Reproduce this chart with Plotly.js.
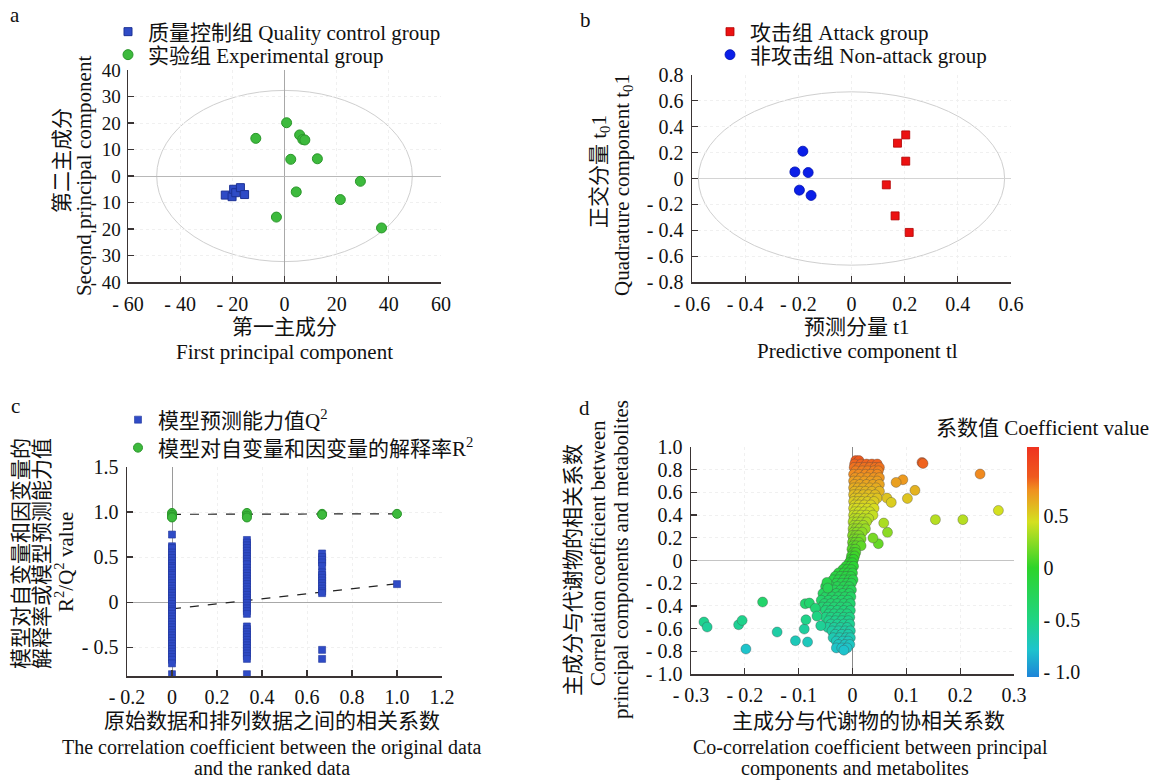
<!DOCTYPE html>
<html>
<head>
<meta charset="utf-8">
<script src="https://cdn.plot.ly/plotly-3.0.1.min.js"></script>
<style>html,body{margin:0;padding:0;background:#fff;}#chart{width:1153px;height:780px;}</style>
</head>
<body>
<div id="chart"></div>
<script>
// ---------- Panel a: PCA scores ----------
const qcX = [-22.7, -20.1, -19.5, -18.7, -16.9, -15.3];
const qcY = [-7.2, -7.8, -5.0, -6.3, -4.4, -7.0];
const expX = [-11.0, 0.8, 5.8, 7.0, 7.8, 2.4, 12.6, 29.1, 4.5, 21.4, -3.1, 37.2];
const expY = [14.2, 20.1, 15.5, 13.8, 13.6, 6.3, 6.5, -2.0, -6.0, -8.9, -15.5, -19.6];
const aXTicks = [-60, -40, -20, 0, 20, 40, 60];
const aXText = ["- 60", "- 40", "- 20", "0", "20", "40", "60"];
const aYTicks = [-40, -30, -20, -10, 0, 10, 20, 30, 40];
const aYText = ["- 40", "- 30", "- 20", "- 10", "0", "10", "20", "30", "40"];
const aEllipse = {rx: 49, ry: 32.3};

// ---------- Panel b: OPLS-DA scores ----------
const attackX = [0.204, 0.173, 0.204, 0.131, 0.164, 0.217];
const attackY = [0.337, 0.273, 0.134, -0.049, -0.289, -0.417];
const nonAttackX = [-0.183, -0.213, -0.163, -0.196, -0.152];
const nonAttackY = [0.211, 0.051, 0.046, -0.090, -0.131];
const bXTicks = [-0.6, -0.4, -0.2, 0, 0.2, 0.4, 0.6];
const bXText = ["- 0.6", "- 0.4", "- 0.2", "0", "0.2", "0.4", "0.6"];
const bYTicks = [-0.8, -0.6, -0.4, -0.2, 0, 0.2, 0.4, 0.6, 0.8];
const bYText = ["- 0.8", "- 0.6", "- 0.4", "- 0.2", "0", "0.2", "0.4", "0.6", "0.8"];
const bEllipse = {rx: 0.576, ry: 0.67};

// ---------- Panel c: permutation test ----------
const q2AtX0 = [0.75, 0.62, 0.60, 0.55, 0.52, 0.49, 0.46, 0.43, 0.40, 0.38, 0.35, 0.32, 0.30, 0.27, 0.24, 0.21, 0.18, 0.15, 0.12, 0.10, 0.07, 0.04, 0.01, -0.02, -0.05, -0.08, -0.10, -0.13, -0.16, -0.19, -0.22, -0.25, -0.28, -0.31, -0.34, -0.37, -0.40, -0.43, -0.46, -0.49, -0.52, -0.55, -0.58, -0.61, -0.64, -0.68, -0.80];
const q2AtX1 = [0.69, 0.66, 0.63, 0.60, 0.57, 0.54, 0.51, 0.48, 0.45, 0.42, 0.38, 0.35, 0.32, 0.29, 0.26, 0.23, 0.20, 0.17, 0.14, 0.11, 0.08, 0.05, 0.02, -0.01, -0.04, -0.07, -0.10, -0.13, -0.27, -0.30, -0.33, -0.36, -0.39, -0.42, -0.45, -0.48, -0.51, -0.54, -0.57, -0.60, -0.63, -0.80];
const q2AtX2 = [0.54, 0.50, 0.47, 0.44, 0.40, 0.33, 0.30, 0.27, 0.24, 0.21, 0.18, 0.15, 0.12, 0.10, -0.53, -0.63];
const q2AtX3 = [0.20];
const r2AtX0 = [0.99, 0.97, 0.95, 0.94];
const r2AtX1 = [0.99, 0.96, 0.94];
const r2AtX2 = [0.98, 0.97];
const r2AtX3 = [0.98];
const permX = [0, 0.333, 0.667, 1.0];
const fitX = [0, 1];
const q2Fit = [-0.075, 0.205];
const r2Fit = [0.975, 0.98];
const cXTicks = [-0.2, 0, 0.2, 0.4, 0.6, 0.8, 1.0, 1.2];
const cXText = ["- 0.2", "0", "0.2", "0.4", "0.6", "0.8", "1.0", "1.2"];
const cYTicks = [-0.5, 0, 0.5, 1.0, 1.5];
const cYText = ["- 0.5", "0", "0.5", "1.0", "1.5"];

// ---------- Panel d: S-plot ----------
const dBandY = [0.88, 0.85, 0.82, 0.79, 0.76, 0.73, 0.70, 0.67, 0.64, 0.61, 0.58, 0.55, 0.52, 0.49, 0.46, 0.43, 0.40, 0.37, 0.34, 0.31, 0.28, 0.25, 0.22, 0.19, 0.16, 0.13, 0.10, 0.07, 0.04, 0.01,
  -0.02, -0.05, -0.08, -0.11, -0.14, -0.17, -0.20, -0.23, -0.26, -0.29, -0.32, -0.35, -0.38, -0.41, -0.44, -0.47, -0.50, -0.53, -0.56, -0.59, -0.62, -0.65, -0.68, -0.71, -0.74, -0.77, -0.79];
const dBandX = [
  [0.006, 0.012], [0.004, 0.016, 0.026, 0.036, 0.046], [0.003, 0.012, 0.022, 0.032, 0.042, 0.05],
  [0.006, 0.018, 0.028, 0.04, 0.048], [0.002, 0.012, 0.024, 0.034, 0.046], [0.005, 0.016, 0.028, 0.04, 0.05],
  [0.002, 0.01, 0.022, 0.034, 0.046], [0.004, 0.014, 0.026, 0.038, 0.05], [0.002, 0.01, 0.02, 0.032, 0.044],
  [0.004, 0.014, 0.024, 0.036, 0.05], [0.002, 0.01, 0.02, 0.03, 0.042], [0.004, 0.012, 0.024, 0.036, 0.046],
  [0.002, 0.01, 0.018, 0.028, 0.04], [0.004, 0.012, 0.022, 0.034], [0.002, 0.008, 0.018, 0.028, 0.04],
  [0.004, 0.012, 0.022, 0.032], [0.002, 0.008, 0.016, 0.026, 0.038], [0.003, 0.01, 0.02, 0.03],
  [0.001, 0.008, 0.016, 0.026], [0.003, 0.01, 0.02], [0.001, 0.007, 0.014, 0.024], [0.002, 0.008, 0.018],
  [0.0, 0.006, 0.012], [0.002, 0.008, 0.016], [0.0, 0.005, 0.012], [0.001, 0.007, 0.016], [-0.001, 0.005],
  [0.001, 0.006], [-0.002, 0.004], [-0.003, 0.002],
  [-0.006, 0.0], [-0.012, -0.004, 0.002], [-0.018, -0.01, -0.002], [-0.026, -0.016, -0.008, 0.0],
  [-0.032, -0.022, -0.012, -0.003], [-0.036, -0.026, -0.016, -0.006, 0.001], [-0.03, -0.02, -0.01, -0.002],
  [-0.05, -0.04, -0.028, -0.016, -0.006], [-0.046, -0.034, -0.022, -0.01, -0.002], [-0.055, -0.042, -0.03, -0.018, -0.006],
  [-0.05, -0.038, -0.026, -0.014, -0.003], [-0.058, -0.044, -0.032, -0.02, -0.008], [-0.052, -0.04, -0.028, -0.016, -0.004],
  [-0.056, -0.046, -0.034, -0.022, -0.01], [-0.05, -0.04, -0.028, -0.016, -0.004], [-0.044, -0.034, -0.022, -0.01],
  [-0.05, -0.04, -0.028, -0.016, -0.005], [-0.044, -0.032, -0.02, -0.008], [-0.04, -0.028, -0.016, -0.005],
  [-0.046, -0.034, -0.022, -0.01], [-0.038, -0.026, -0.014, -0.004], [-0.032, -0.02, -0.008],
  [-0.036, -0.024, -0.012, -0.004], [-0.03, -0.018, -0.008], [-0.026, -0.014, -0.005], [-0.03, -0.02, -0.01], [-0.016]
];
const dOutX = [-0.276, -0.270, -0.2115, -0.205, -0.198, -0.167, -0.140, -0.106, -0.0835, -0.0896, -0.0865, -0.0878, -0.080, -0.069, -0.066, -0.059, -0.0475, -0.046,
  0.129, 0.131, 0.237, 0.271, 0.205, 0.154, 0.0935, 0.081, 0.116, 0.102, 0.064, 0.072, 0.065, 0.048, 0.038, 0.058];
const dOutY = [-0.542, -0.586, -0.566, -0.528, -0.78, -0.366, -0.63, -0.707, -0.718, -0.604, -0.522, -0.381, -0.375, -0.42, -0.49, -0.574, -0.193, -0.243,
  0.864, 0.855, 0.762, 0.441, 0.36, 0.36, 0.712, 0.688, 0.618, 0.547, 0.55, 0.512, 0.248, 0.148, 0.198, 0.33];
const dXTicks = [-0.3, -0.2, -0.1, 0, 0.1, 0.2, 0.3];
const dXText = ["- 0.3", "- 0.2", "- 0.1", "0", "0.1", "0.2", "0.3"];
const dYTicks = [-1.0, -0.8, -0.6, -0.4, -0.2, 0, 0.2, 0.4, 0.6, 0.8, 1.0];
const dYText = ["- 1.0", "- 0.8", "- 0.6", "- 0.4", "- 0.2", "0", "0.2", "0.4", "0.6", "0.8", "1.0"];
const cbTicks = [-1.0, -0.5, 0, 0.5];
const cbText = ["- 1.0", "- 0.5", "0", "0.5"];

// ---------- build ----------
const W = 1153, H = 780;
const FONT = 'Liberation Serif, "Noto Sans CJK SC", serif';
const TICK = 20, TXT = 21;
const px = x => x / W;
const py = y => 1 - y / H;

const dX = [], dY = [];
dBandY.forEach((yv, i) => dBandX[i].forEach(xv => { dX.push(xv); dY.push(yv); }));
dOutX.forEach((xv, i) => { dX.push(xv); dY.push(dOutY[i]); });

function colX(arr, xv) { return arr.map(() => xv); }
const q2X = [].concat(colX(q2AtX0, permX[0]), colX(q2AtX1, permX[1]), colX(q2AtX2, permX[2]), colX(q2AtX3, permX[3]));
const q2Y = [].concat(q2AtX0, q2AtX1, q2AtX2, q2AtX3);
const r2X = [].concat(colX(r2AtX0, permX[0]), colX(r2AtX1, permX[1]), colX(r2AtX2, permX[2]), colX(r2AtX3, permX[3]));
const r2Y = [].concat(r2AtX0, r2AtX1, r2AtX2, r2AtX3);

const traces = [
  {type: 'scatter', mode: 'markers', x: qcX, y: qcY, xaxis: 'x', yaxis: 'y', name: '质量控制组 Quality control group', legend: 'legend',
   marker: {symbol: 'square', size: 8, color: '#2f4bc6', line: {color: '#1d3296', width: 1}}},
  {type: 'scatter', mode: 'markers', x: expX, y: expY, xaxis: 'x', yaxis: 'y', name: '实验组 Experimental group', legend: 'legend2',
   marker: {symbol: 'circle', size: 10, color: '#3dba3d', line: {color: '#2a962a', width: 1}}},
  {type: 'scatter', mode: 'markers', x: attackX, y: attackY, xaxis: 'x2', yaxis: 'y2', name: '攻击组 Attack group', legend: 'legend3',
   marker: {symbol: 'square', size: 8, color: '#ec1212', line: {color: '#b00000', width: 0.8}}},
  {type: 'scatter', mode: 'markers', x: nonAttackX, y: nonAttackY, xaxis: 'x2', yaxis: 'y2', name: '非攻击组 Non-attack group', legend: 'legend4',
   marker: {symbol: 'circle', size: 10, color: '#0a1ee8', line: {color: '#0010b0', width: 0.8}}},
  {type: 'scatter', mode: 'lines', x: fitX, y: r2Fit, xaxis: 'x3', yaxis: 'y3', showlegend: false, hoverinfo: 'skip',
   line: {color: '#222', width: 1.2, dash: 'dash'}},
  {type: 'scatter', mode: 'lines', x: fitX, y: q2Fit, xaxis: 'x3', yaxis: 'y3', showlegend: false, hoverinfo: 'skip',
   line: {color: '#222', width: 1.2, dash: 'dash'}},
  {type: 'scatter', mode: 'markers', x: q2X, y: q2Y, xaxis: 'x3', yaxis: 'y3', name: '模型预测能力值Q<sup>2</sup>', legend: 'legend5',
   marker: {symbol: 'square', size: 7, color: '#2f4bc6', line: {color: '#22389e', width: 0.6}}},
  {type: 'scatter', mode: 'markers', x: r2X, y: r2Y, xaxis: 'x3', yaxis: 'y3', name: '模型对自变量和因变量的解释率R<sup>2</sup>', legend: 'legend6',
   marker: {symbol: 'circle', size: 9, color: '#3dba3d', line: {color: '#2a962a', width: 1}}},
  {type: 'scatter', mode: 'markers', x: dX, y: dY, xaxis: 'x4', yaxis: 'y4', showlegend: false,
   marker: {symbol: 'circle', size: 10, color: dY, cmin: -1.05, cmax: 1.16,
     colorscale: [[0, '#1e84d8'], [0.12, '#1ec4cc'], [0.25, '#1fd483'], [0.475, '#2ed42a'], [0.674, '#d4e020'], [0.814, '#f09020'], [0.87, '#ef5a1e'], [1, '#ef3320']],
     line: {color: 'rgba(70,70,70,0.45)', width: 0.8},
     colorbar: {x: px(1027), xanchor: 'left', xpad: 0, ypad: 0, y: py(562), yanchor: 'middle', len: 230 / H, lenmode: 'fraction', thickness: 12,
       outlinewidth: 0, tickmode: 'array', tickvals: cbTicks, ticktext: cbText, ticks: '', ticklabelposition: 'outside',
       tickfont: {family: FONT, size: TICK, color: '#111'}}}}
];

function axisBase(extra) {
  return Object.assign({
    showline: true, linecolor: '#3a3434', linewidth: 1.5, ticks: 'inside', ticklen: 6, tickwidth: 1.2, tickcolor: '#3a3434',
    tickmode: 'array', tickfont: {family: FONT, size: TICK, color: '#111'}, showgrid: true, gridcolor: '#f0f0f0', griddash: 'dot',
    zeroline: false, mirror: false, fixedrange: true, ticklabelstandoff: 3
  }, extra);
}

const ann = (text, x, y, o) => Object.assign({text: text, x: px(x), y: py(y), xref: 'paper', yref: 'paper', showarrow: false,
  xanchor: 'center', yanchor: 'middle', font: {family: FONT, size: TXT, color: '#111'}}, o || {});
const small = {font: {family: FONT, size: 20, color: '#111'}};

const annotations = [
  ann('a', 15, 15), ann('b', 585, 20), ann('c', 15, 406), ann('d', 584, 408),
  ann('第二主成分', 62, 161, {textangle: -90}),
  ann('Second principal component', 84, 176, {textangle: -90}),
  ann('第一主成分', 284, 327), ann('First principal component', 284, 352),
  ann('正交分量 t<sub>0</sub>1', 600, 172, {textangle: -90}),
  ann('Quadrature component t<sub>0</sub>1', 623, 185, {textangle: -90}),
  ann('预测分量 t1', 857, 327), ann('Predictive component tl', 857, 351),
  ann('模型对自变量和因变量的', 21, 554, {textangle: -90}),
  ann('解释率或模型预测能力值', 42, 554, {textangle: -90}),
  ann('R<sup>2</sup>/Q<sup>2</sup> value', 64, 562, {textangle: -90}),
  ann('原始数据和排列数据之间的相关系数', 272, 721),
  ann('The correlation coefficient between the original data', 272, 747, small),
  ann('and the ranked data', 272, 768, small),
  ann('主成分与代谢物的相关系数', 573, 570, {textangle: -90}),
  ann('Correlation coefficient between', 598, 553, {textangle: -90}),
  ann('principal components and metabolites', 621, 560, {textangle: -90}),
  ann('主成分与代谢物的协相关系数', 868, 721),
  ann('Co-correlation coefficient between principal', 870, 747, small),
  ann('components and metabolites', 855, 768, small),
  ann('系数值 Coefficient value', 1151, 428, {xanchor: 'right'})
];

const legFont = {family: FONT, size: TXT, color: '#111'};
const leg = (xpx, ypx) => ({x: px(xpx), y: py(ypx), xanchor: 'left', yanchor: 'middle', font: legFont,
  bgcolor: 'rgba(0,0,0,0)', borderwidth: 0, tracegroupgap: 0, itemclick: false, itemdoubleclick: false});

const layout = {
  width: W, height: H, margin: {l: 0, r: 0, t: 0, b: 0}, paper_bgcolor: '#fff', plot_bgcolor: '#fff',
  font: {family: FONT, size: TXT, color: '#111'},
  xaxis: axisBase({domain: [px(128), px(441)], range: [-60, 60], anchor: 'y', tickvals: aXTicks, ticktext: aXText,
    zeroline: true, zerolinecolor: '#a8a8a8', zerolinewidth: 1}),
  yaxis: axisBase({domain: [py(282), py(70)], range: [-40, 40], anchor: 'x', tickvals: aYTicks, ticktext: aYText,
    zeroline: true, zerolinecolor: '#b8b8b8', zerolinewidth: 1, ticklabelstandoff: 2,
    tickfont: {family: FONT, size: 19, color: '#111'}}),
  xaxis2: axisBase({domain: [px(692), px(1011)], range: [-0.6, 0.6], anchor: 'y2', tickvals: bXTicks, ticktext: bXText}),
  yaxis2: axisBase({domain: [py(282), py(75)], range: [-0.8, 0.8], anchor: 'x2', tickvals: bYTicks, ticktext: bYText,
    zeroline: true, zerolinecolor: '#d4d4d4', zerolinewidth: 1.5}),
  xaxis3: axisBase({domain: [px(127), px(442)], range: [-0.2, 1.2], anchor: 'y3', tickvals: cXTicks, ticktext: cXText,
    zeroline: true, zerolinecolor: '#9a9a9a', zerolinewidth: 1, ticklabelstandoff: 2}),
  yaxis3: axisBase({domain: [py(676), py(467)], range: [-0.82, 1.5], anchor: 'x3', tickvals: cYTicks, ticktext: cYText,
    zeroline: true, zerolinecolor: '#a8a8a8', zerolinewidth: 1}),
  xaxis4: axisBase({domain: [px(691), px(1014)], range: [-0.3, 0.3], anchor: 'y4', tickvals: dXTicks, ticktext: dXText,
    zeroline: true, zerolinecolor: '#8a8a8a', zerolinewidth: 1, ticklabelstandoff: 2}),
  yaxis4: axisBase({domain: [py(674), py(447)], range: [-1, 1], anchor: 'x4', tickvals: dYTicks, ticktext: dYText,
    zeroline: true, zerolinecolor: '#c4c4c4', zerolinewidth: 1}),
  shapes: [
    {type: 'circle', xref: 'x', yref: 'y', x0: -aEllipse.rx, x1: aEllipse.rx, y0: -aEllipse.ry, y1: aEllipse.ry,
     line: {color: '#cfcfcf', width: 1}, layer: 'below'},
    {type: 'circle', xref: 'x2', yref: 'y2', x0: -bEllipse.rx, x1: bEllipse.rx, y0: -bEllipse.ry, y1: bEllipse.ry,
     line: {color: '#cfcfcf', width: 1}, layer: 'below'}
  ],
  showlegend: true,
  legend: leg(108, 32), legend2: leg(108, 55),
  legend3: leg(710, 32), legend4: leg(710, 55),
  legend5: leg(118, 420), legend6: leg(118, 448),
  annotations: annotations
};

Plotly.newPlot('chart', traces, layout, {displayModeBar: false, staticPlot: true});
</script>
</body>
</html>
